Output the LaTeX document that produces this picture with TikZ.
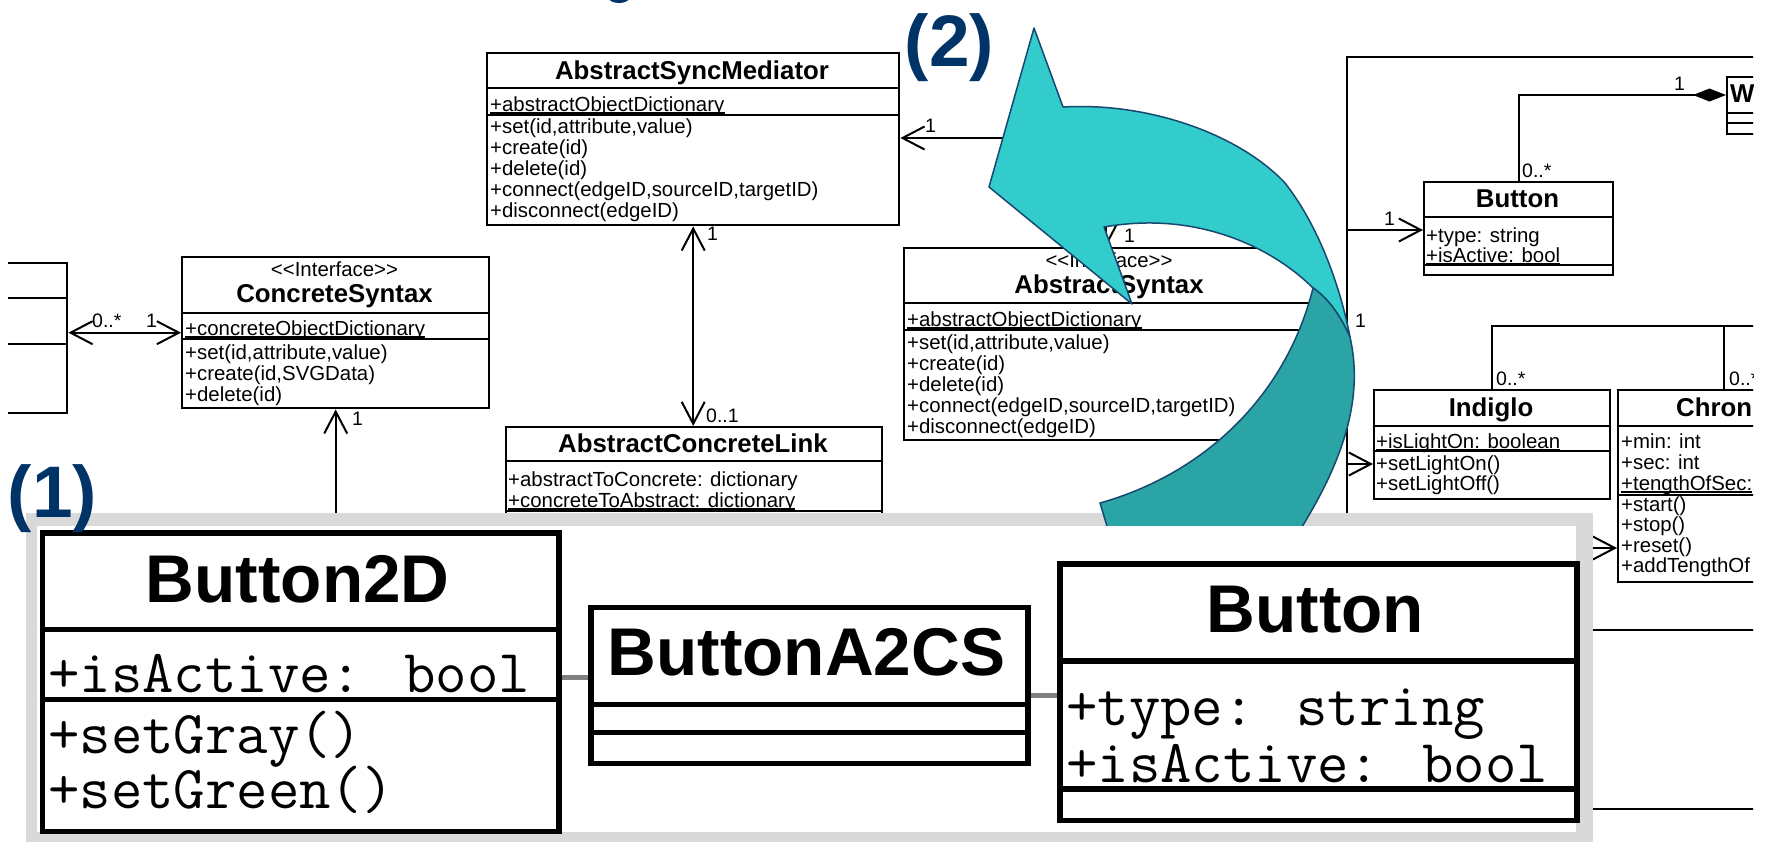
\documentclass[tikz,border=0pt]{standalone}
\usepackage{fontspec}
\setmainfont{Liberation Sans}
\usetikzlibrary{arrows.meta,calc}

\definecolor{hdblue}{RGB}{0,51,102}
\definecolor{arrowlight}{RGB}{51,204,204}
\definecolor{arrowdark}{RGB}{43,164,165}
\definecolor{arrowline}{RGB}{22,72,112}
\definecolor{panelgray}{RGB}{217,217,217}
\definecolor{linkgray}{RGB}{128,128,128}

\newcommand\smtxt{\fontsize{20.4}{21}\selectfont}
\newcommand\ttltxt{\fontsize{25.8}{26}\selectfont\bfseries}
\newcommand\lbltxt{\fontsize{19.5}{20}\selectfont}
\newcommand\bigttl{\fontsize{67.5}{70}\selectfont\bfseries}
\newcommand\bigmono{\ttfamily\fontsize{61}{63}\selectfont}
\newcommand\markfnt{\fontsize{73}{73}\selectfont\bfseries}
% stereotype brackets kept apart so they stay two separate signs
\newcommand\stereo{<\kern0pt<Interface>\kern0pt>}
% compartment separator of a class box at a given height
\newcommand\sepat[2]{\draw[sepline] (#1.west |- 0,#2) -- (#1.east |- 0,#2);}
\newcommand\bigsepat[2]{\draw[bigsep] (#1.west |- 0,#2) -- (#1.east |- 0,#2);}

\tikzset{
  ob/.tip={Straight Barb[length=22pt,width=23pt]},
  umlbox/.style={draw, fill=white, line width=2.4pt, inner sep=0pt, anchor=north west},
  bigbox/.style={draw, fill=white, line width=5.5pt, inner sep=0pt, anchor=north west},
  sepline/.style={line width=2.4pt},
  bigsep/.style={line width=5.5pt},
  wire/.style={line width=2pt},
  txt/.style={inner sep=0pt, anchor=base west, font=\smtxt},
  ttl/.style={inner sep=0pt, anchor=base, font=\ttltxt},
  lbl/.style={inner sep=0pt, anchor=base west, font=\lbltxt},
  uline/.style={line width=1.3pt},
  bigttlstyle/.style={inner sep=0pt, anchor=base, font=\bigttl},
  monotxt/.style={inner sep=0pt, anchor=base west, font=\bigmono},
  stepmarker/.style={inner sep=0pt, anchor=base west, font=\markfnt, text=hdblue},
  glink/.style={line width=5pt, draw=linkgray},
}

\begin{document}
\begin{tikzpicture}[x=1pt, y=-1pt, line join=miter]
\useasboundingbox (0,0) rectangle (1771,841);
\clip (0,0) rectangle (1771,841);
\fill[white] (0,0) rectangle (1771,841);

% descender of a heading letter at the top edge
\fill[hdblue] (619,-3) ellipse [x radius=11, y radius=6];

% ---------------- background class diagram ----------------
\begin{scope}
\clip (8,0) rectangle (1753,841);

% outer frame on the right
\coordinate (ftop) at (1347,57);
\coordinate (fbot) at (1347,560);
\draw[wire] (1900,57) -- (ftop) -- (fbot);

% left partial class
\node[umlbox, minimum width=166pt, minimum height=150pt] (lbox) at (-100,262) {};
\sepat{lbox}{298}
\sepat{lbox}{344}

% ConcreteSyntax
\node[umlbox, minimum width=307pt, minimum height=151pt] (cs) at (181,256) {};
\sepat{cs}{313}
\sepat{cs}{339}
\node[ttl, font=\smtxt] at (334.5,276) {\stereo};
\node[ttl] at (334.5,302) {ConcreteSyntax};
\node[txt] (csa) at (185,335) {+concreteObjectDictionary};
\draw[uline] ([yshift=-2pt]csa.base west) -- ([yshift=-2pt]csa.base east);
\node[txt] at (185,359) {+set(id,attribute,value)};
\node[txt] at (185,380) {+create(id,SVGData)};
\node[txt] at (185,401) {+delete(id)};

% AbstractSyncMediator
\node[umlbox, minimum width=412pt, minimum height=172pt] (asm) at (486,52) {};
\sepat{asm}{88}
\sepat{asm}{115}
\node[ttl] at (692,79.5) {AbstractSyncMediator};
\node[txt] (asma) at (490,111) {+abstractObjectDictionary};
\draw[uline] ([yshift=-2pt]asma.base west) -- ([yshift=-2pt]asma.base east);
\node[txt] at (490,133) {+set(id,attribute,value)};
\node[txt] at (490,154) {+create(id)};
\node[txt] at (490,175) {+delete(id)};
\node[txt] at (490,196) {+connect(edgeID,sourceID,targetID)};
\node[txt] at (490,217) {+disconnect(edgeID)};

% AbstractConcreteLink
\node[umlbox, minimum width=376pt, minimum height=140pt] (acl) at (505,426) {};
\sepat{acl}{461}
\sepat{acl}{511}
\node[ttl] at (693,452) {AbstractConcreteLink};
\node[txt] at (508,486) {+abstractToConcrete: dictionary};
\node[txt] (acla) at (508,507) {+concreteToAbstract: dictionary};
\draw[uline] ([yshift=-2pt]acla.base west) -- ([yshift=-2pt]acla.base east);

% AbstractSyntax
\node[umlbox, minimum width=412pt, minimum height=192pt] (as) at (903,247) {};
\sepat{as}{303}
\sepat{as}{330}
\node[ttl, font=\smtxt] at (1109,267) {\stereo};
\node[ttl] at (1109,293) {AbstractSyntax};
\node[txt] (asa) at (907,326) {+abstractObjectDictionary};
\draw[uline] ([yshift=-2pt]asa.base west) -- ([yshift=-2pt]asa.base east);
\node[txt] at (907,349) {+set(id,attribute,value)};
\node[txt] at (907,370) {+create(id)};
\node[txt] at (907,391) {+delete(id)};
\node[txt] at (907,412) {+connect(edgeID,sourceID,targetID)};
\node[txt] at (907,433) {+disconnect(edgeID)};

% Button
\node[umlbox, minimum width=189pt, minimum height=93pt] (btn) at (1423,181) {};
\sepat{btn}{217}
\sepat{btn}{265}
\node[ttl] at (1517.5,207) {Button};
\node[txt] at (1426,242) {+type: string};
\node[txt] (btna) at (1426,262) {+isActive: bool};
\draw[uline] ([yshift=-2pt]btna.base west) -- ([yshift=-2pt]btna.base east);

% W (cut at the edge)
\node[umlbox, minimum width=200pt, minimum height=57pt] (w) at (1726,76) {};
\sepat{w}{113}
\sepat{w}{123}
\node[ttl, anchor=base west] at (1730,102) {W};

% Indiglo
\node[umlbox, minimum width=236pt, minimum height=109pt] (ind) at (1373,389) {};
\sepat{ind}{426}
\sepat{ind}{451}
\node[ttl] at (1491,416) {Indiglo};
\node[txt] (inda) at (1376,448) {+isLightOn: boolean};
\draw[uline] ([yshift=-2pt]inda.base west) -- ([yshift=-2pt]inda.base east);
\node[txt] at (1376,470) {+setLightOn()};
\node[txt] at (1376,490) {+setLightOff()};

% Chron (cut at the edge)
\node[umlbox, minimum width=250pt, minimum height=192pt] (chr) at (1617,389) {};
\sepat{chr}{426}
\sepat{chr}{495}
\node[ttl, anchor=base west] at (1676,416) {Chron};
\node[txt] at (1621,448) {+min: int};
\node[txt] at (1621,469) {+sec: int};
\node[txt] (chra) at (1621,490) {+tengthOfSec:};
\draw[uline] ([yshift=-2pt]chra.base west) -- ([yshift=-2pt]chra.base east);
\node[txt] at (1621,511) {+start()};
\node[txt] at (1621,531) {+stop()};
\node[txt] at (1621,552) {+reset()};
\node[txt] at (1621,572) {+addTengthOf};

% associations
\draw[wire, {ob}-{ob}] (cs.west -| lbox.east) -- (cs.west);
\draw[wire, -{ob}] (cs.south |- fbot) -- (cs.south);
\draw[wire, {ob}-{ob}] (asm.south) -- (asm.south |- acl.north);
\coordinate (elb) at (1106,138);
\draw[wire, {ob}-{ob}] (elb -| asm.east) -- (elb) -- (elb |- as.north);
\draw[wire] (as.east |- 0,323) -- (ftop |- 0,323);
\draw[wire, -{ob}] (ftop |- 0,230) -- (btn.west |- 0,230);
\draw[wire, -{ob}] (ftop |- 0,464) -- (ind.west |- 0,464);
\draw[wire, -{ob}] (ftop |- 0,548) -- (chr.west |- 0,548);
\draw[wire] (ftop |- 0,630) -- (1900,630);
\draw[wire] (ftop |- 0,809) -- (1900,809);
\draw[wire, -{Diamond[length=33pt,width=13pt,fill=black]}] (btn.north) |- (w.west |- 0,95);
\draw[wire] (ind.north) -- (ind.north |- 0,326) -- (1900,326);
\draw[wire] (chr.north -| 1724,0) -- (1724,326);

% multiplicities
\node[lbl] at (92,327) {0..*};
\node[lbl] at (146,327) {1};
\node[lbl] at (352,425) {1};
\node[lbl] at (925,132) {1};
\node[lbl] at (707,240) {1};
\node[lbl] at (706,422) {0..1};
\node[lbl] at (1124,242) {1};
\node[lbl] at (1355,327) {1};
\node[lbl] at (1384,225) {1};
\node[lbl] at (1522,177) {0..*};
\node[lbl] at (1674,90) {1};
\node[lbl] at (1496,385) {0..*};
\node[lbl] at (1729,385) {0..*};
\end{scope}

% ---------------- highlighted panel ----------------
\fill[panelgray] (26,513) rectangle (1593,860);

% curved arrow: front face
\filldraw[fill=arrowlight, draw=arrowline, line width=1.5pt, line join=round]
  (1034,28) -- (1063,107)
  .. controls (1150,102) and (1240,135) .. (1285,183)
  .. controls (1318,225) and (1340,285) .. (1350,337)
  .. controls (1340,315) and (1328,298) .. (1313,288)
  .. controls (1275,250) and (1200,210) .. (1104,227)
  -- (1132,304) -- (989,187) -- cycle;
% curved arrow: back face
\filldraw[fill=arrowdark, draw=arrowline, line width=1.5pt, line join=round]
  (1313,288) .. controls (1328,298) and (1340,315) .. (1350,337)
  .. controls (1362,390) and (1350,450) .. (1300,530)
  -- (1290,546) -- (1113,546) -- (1100,503)
  .. controls (1200,475) and (1285,400) .. (1313,288) -- cycle;

\fill[white] (37,526) rectangle (1576,832);

% Button2D
\node[bigbox, minimum width=516.5pt, minimum height=298.5pt] (b2d) at (39.5,530) {};
\bigsepat{b2d}{629.5}
\bigsepat{b2d}{699.5}
\node[bigttlstyle] at (297.75,602) {Button2D};
\node[monotxt] at (48,692) {+isActive: bool};
\node[monotxt] at (48,753) {+setGray()};
\node[monotxt] at (48,808) {+setGreen()};

% ButtonA2CS
\node[bigbox, minimum width=437pt, minimum height=156pt] (a2cs) at (588,604.5) {};
\bigsepat{a2cs}{704.5}
\bigsepat{a2cs}{732.5}
\node[bigttlstyle] at (806.5,675) {ButtonA2CS};

% Button
\node[bigbox, minimum width=517pt, minimum height=256.5pt] (bb) at (1057,561) {};
\bigsepat{bb}{661}
\bigsepat{bb}{789}
\node[bigttlstyle] at (1315.5,632) {Button};
\node[monotxt] at (1066,725) {+type: string};
\node[monotxt] at (1066,782) {+isActive: bool};

% links between the three classes
\draw[glink] (b2d.east |- 0,677) -- (a2cs.west |- 0,677);
\draw[glink] (a2cs.east |- 0,695) -- (bb.west |- 0,695);

% step markers
\node[stepmarker] at (7.5,517) {(1)};
\node[stepmarker] at (904.5,66) {(2)};
\end{tikzpicture}
\end{document}
